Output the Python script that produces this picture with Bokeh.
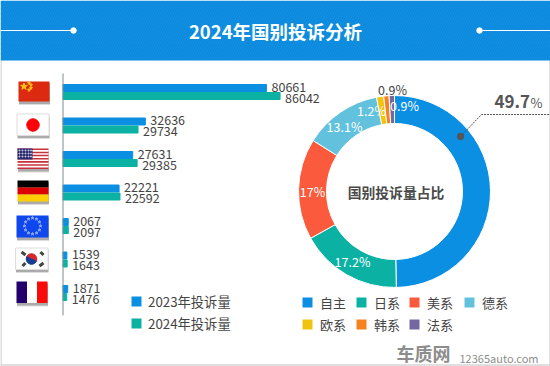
import math
from bokeh.embed import file_html
from bokeh.resources import INLINE
from bokeh.plotting import figure
from bokeh.models import Range1d, ColumnDataSource
from bokeh.core.properties import value

countries = ["中国", "日本", "美国", "德国", "欧盟", "韩国", "法国"]
v2023 = [80661, 32636, 27631, 22221, 2067, 1539, 1871]
v2024 = [86042, 29734, 29385, 22592, 2097, 1643, 1476]
series_names = ["2023年投诉量", "2024年投诉量"]
brands = ["自主", "日系", "美系", "德系", "欧系", "韩系", "法系"]
shares = [49.7, 17.2, 17, 13.1, 1.2, 0.9, 0.9]
brand_colors = ["#0b8fe2", "#0bb2a3", "#fb5b3c", "#62c2de", "#f0c30f", "#f5821f", "#74679f"]
title = "2024年国别投诉分析"
center_title = "国别投诉量占比"

FONT = value("Noto Sans CJK SC")
BLUE, TEAL = "#0b8fe2", "#0bb2a3"
TXT = "#444444"

W, H = 550, 366
p = figure(width=W, height=H, x_range=Range1d(0, W), y_range=Range1d(H, 0),
           output_backend="svg", toolbar_location=None, min_border=0)
p.margin = (0, 0, 0, 0)
p.xaxis.visible = False
p.yaxis.visible = False
p.grid.visible = False
p.outline_line_color = None
p.background_fill_color = "white"

# scales for the bars
k = 0.002523
x0 = 62.5
p.extra_x_ranges["val"] = Range1d(-x0 / k, (W - x0) / k)
row0, row_h = 91.5, 33.5
p.extra_y_ranges["row"] = Range1d((H - row0) / row_h, -row0 / row_h)


def T(x, y, s, size=13, color=TXT, style="normal", align="center", **kw):
    p.text([x], [y], text=[s], text_font=FONT, text_font_size=f"{size}px", text_color=color,
           text_font_style=style, text_align=align, text_baseline="middle", **kw)


# frame and header
p.segment([0.5, 549.5, 0], [60, 60, 364.5], [0.5, 549.5, 550], [366, 366, 364.5], line_color="#d4d4d4", line_width=1.5)
p.quad(left=[0], right=[W], top=[0], bottom=[60], fill_color="#0a8ade", line_color=None,
       hatch_pattern="right_diagonal_line", hatch_color="#2a9ce6", hatch_alpha=0.35, hatch_scale=5, hatch_weight=1)
p.segment([0, 479], [30, 30], [73, 550], [30, 30], line_color="white", line_width=1.2)
p.scatter([73, 479], [30, 30], size=5.5, color="white")
T(275, 30, title, size=18.5, color="white", style="bold")

# bars
rows = list(range(len(countries)))
off = 4 / row_h
h = 7 / row_h
for vals, col, d, ld in [(v2023, BLUE, -off, -5.5 / row_h), (v2024, TEAL, off, 5.5 / row_h)]:
    src = ColumnDataSource(dict(v=vals, y=[r + d for r in rows], ly=[r + ld for r in rows],
                                s=[str(a) for a in vals], c=countries))
    p.hbar(y="y", right="v", left=0, height=h, color=col, source=src, x_range_name="val", y_range_name="row")
    p.text(x="v", y="ly", text="s", x_offset=5, text_font=FONT, text_font_size="12.5px", text_color=TXT,
           text_baseline="middle", source=src, x_range_name="val", y_range_name="row")
p.segment([62.5], [73], [62.5], [315], line_color="#7f8c8d", line_width=1)

# flags
def R(l, t, r, b, c, **kw):
    p.quad(left=[l], right=[r], top=[t], bottom=[b], fill_color=c, line_color=kw.get("lc"), line_width=kw.get("lw", 1),
           fill_alpha=kw.get("a", 1))

def shadow(l, t, r, b):
    R(l + .5, t + 2, r + .5, b + 3.5, "#9a9a9a", a=0.35)
    R(l + 0.5, t + 2, r + .5, b + 2.5, "#8a8a8a", a=0.6)

# China
shadow(18, 81, 49, 101)
R(18, 81, 49, 101, "#dc2a10")
p.scatter([23.5], [86], marker="star", size=7, color="#f5c518")
p.scatter([28.5, 30.5, 30.5, 28.5], [82.5, 84.5, 87.5, 89.5], marker="star", size=3, color="#f5c518")
# Japan
shadow(16.5, 113.5, 48.5, 135)
R(16.5, 113.5, 48.5, 135, "white", lc="#dddddd")
p.scatter([32.5], [124.5], size=12.5, color="#fb0007")
# USA
shadow(17, 148, 48, 168.5)
R(17, 148, 48, 168.5, "white")
for i in range(7):
    R(17, 148 + i * 3.15, 48, 148 + i * 3.15 + 1.55, "#c8303c")
R(17, 148, 32, 159, "#2a2a6e")
for yy in (150, 153, 156):
    p.scatter([19, 22, 25, 28, 30.5], [yy] * 5, size=1.2, color="#c8c8e0")
# Germany
shadow(17, 180, 48, 201)
R(17, 180, 48, 187, "#000000")
R(17, 187, 48, 194, "#dd0000")
R(17, 194, 48, 201, "#ffce00")
# EU
shadow(16, 215, 48, 237)
R(16, 215, 48, 237, "#0f47ee")
ex = [32 + 8 * math.sin(i * math.pi / 6) for i in range(12)]
ey = [225.5 - 8 * math.cos(i * math.pi / 6) for i in range(12)]
p.scatter(ex, ey, marker="star", size=3, color="#8fa8f0")
# Korea
shadow(15, 247.5, 47.5, 269)
R(15, 247.5, 47.5, 269, "white", lc="#dddddd")
p.wedge([31], [258.5], radius=5.3, start_angle=math.radians(-25), end_angle=math.radians(155), color="#d8262c")
p.wedge([31], [258.5], radius=5.3, start_angle=math.radians(155), end_angle=math.radians(335), color="#153e92")
p.segment([21, 40, 22, 39], [251.5, 251.5, 265.5, 265.5], [25, 43, 25, 43], [254.5, 254.5, 262.5, 262.5], line_color="#444444", line_width=3)
# France
shadow(16, 281, 47, 302.5)
R(16, 281, 26.5, 302.5, "#23006b")
R(26.5, 281, 36.5, 302.5, "white")
R(36.5, 281, 47, 302.5, "#fb0a0a")

# legend left
for i, (n, c) in enumerate(zip(series_names, [BLUE, TEAL])):
    y = 301 + 22 * i
    R(131, y - 5, 141, y + 5, c)
    T(147.5, y, n, size=13.3, align="left")

# donut
cx, cy = 394, 191
cum = 0
starts, ends = [], []
for s in shares:
    a0 = math.pi / 2 - 2 * math.pi * cum / 100
    cum += s
    a1 = math.pi / 2 - 2 * math.pi * cum / 100
    starts.append(a1)
    ends.append(a0)
p.annular_wedge([cx] * len(shares), [cy] * len(shares), inner_radius=68, outer_radius=96,
                start_angle=starts, end_angle=ends, fill_color=brand_colors, line_color="white", line_width=1)
T(cx + 1.5, cy, center_title, size=13.8, style="bold", color="#4a4a4a")
label_pos = [None, (352, 261), (312, 191), (344, 126), (371, 110), (404, 105)]
for s, pos in zip(shares, label_pos):
    if pos:
        T(pos[0], pos[1], f"{s}%", size=12.5, color="white")
T(392, 89, f"{shares[6]}%", size=12.5)

# callout
p.line([460, 481, 550], [136, 114, 114], line_color="#555555", line_width=1, line_dash="2 1")
p.scatter([460], [136], size=6.5, color="#555555")
T(494, 101, str(shares[0]), size=17, style="bold", color="#555555", align="left")
T(530, 102, "%", size=13, color="#555555", align="left")

# legend right
lx = [302, 356, 409, 464, 302, 356, 409]
ly = [302, 302, 302, 302, 324, 324, 324]
for x, y, n, c in zip(lx, ly, brands, brand_colors):
    R(x, y - 5, x + 10, y + 5, c)
    T(x + 17.5, y, n, size=13, align="left")

# watermark
T(396, 352, "车质网", size=18, style="bold", color="#8d8d8d", align="left")
T(459, 357, "12365auto.com", size=11, color="#8d8d8d", align="left")

open("out.html", "w").write(file_html(p, INLINE))
